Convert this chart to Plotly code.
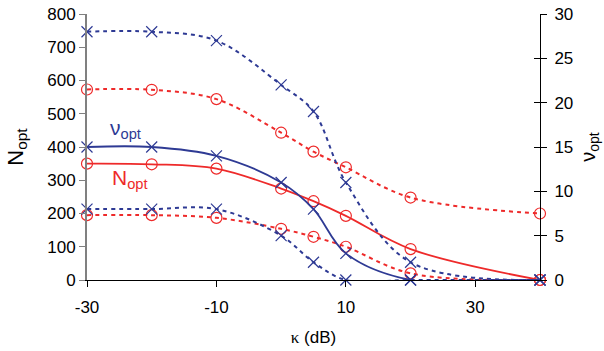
import plotly.graph_objects as go

kappa = [-30, -20, -10, 0, 5, 10, 20, 40]

n_opt = [350, 348, 335, 275, 237, 193, 93, 0]
n_opt_upper = [573, 572, 544, 443, 386, 339, 248, 200]
n_opt_lower = [195, 195, 187, 154, 130, 100, 20, 0]

nu_opt = [15, 15, 14, 11, 8, 3, 0, 0]
nu_opt_upper = [28, 28, 27, 22, 19, 11, 2, 0]
nu_opt_lower = [8, 8, 8, 5, 2, 0, 0, 0]

x_ticks = [-30, -10, 10, 30]
left_ticks = [0, 100, 200, 300, 400, 500, 600, 700, 800]
right_ticks = [0, 5, 10, 15, 20, 25, 30]

RED = "#EE2A2A"
BLUE = "#2E3A94"
FONT = "Liberation Sans, Arial, sans-serif"

fig = go.Figure()

def add(y, color, dash, symbol, axis, width):
    fig.add_trace(go.Scatter(
        x=kappa, y=y, yaxis=axis, mode="lines+markers",
        line=dict(color=color, width=width, dash=dash, shape="spline", smoothing=1.0),
        marker=dict(symbol=symbol, size=11, color=color, line=dict(color=color, width=1.2)),
        showlegend=False, cliponaxis=False,
    ))

add(n_opt_upper, RED, "4px,4px", "circle-open", "y", 2)
add(n_opt_lower, RED, "4px,4px", "circle-open", "y", 2)
add(nu_opt_upper, BLUE, "4px,4px", "x-thin-open", "y2", 2)
add(nu_opt_lower, BLUE, "4px,4px", "x-thin-open", "y2", 2)
add(n_opt, RED, "solid", "circle-open", "y", 1.8)
add(nu_opt, BLUE, "solid", "x-thin-open", "y2", 1.8)

fig.update_layout(
    width=604, height=351,
    margin=dict(l=87, r=64, t=14, b=71),
    paper_bgcolor="white", plot_bgcolor="white",
    font=dict(family=FONT, size=17, color="black"),
    xaxis=dict(
        range=[-30, 40], tickvals=x_ticks, ticktext=[str(v) for v in x_ticks],
        showgrid=False, zeroline=False, showline=True, linecolor="black", linewidth=1,
        ticks="outside", ticklen=6, tickcolor="black", ticklabelstandoff=6, automargin=False,
        title=dict(text="<span style='font-family:Liberation Serif'>κ</span> (dB)",
                   font=dict(size=17), standoff=14),
    ),
    yaxis=dict(
        range=[0, 800], tickvals=left_ticks, automargin=False,
        showgrid=False, zeroline=False, showline=True, linecolor="#808080", linewidth=2,
        ticks="outside", ticklen=6, tickcolor="#808080",
        title=dict(text="N<sub>opt</sub>", font=dict(size=22), standoff=18),
    ),
    yaxis2=dict(
        range=[0, 30], tickvals=right_ticks, overlaying="y", side="right", automargin=False,
        showgrid=False, zeroline=False, showline=True, linecolor="black", linewidth=1,
        ticks="outside", ticklen=6, tickcolor="black", ticklabelstandoff=4,
        title=dict(text="ν<sub>opt</sub>", font=dict(size=20), standoff=8),
    ),
    yaxis3=dict(
        range=[0, 30], tickvals=right_ticks, overlaying="y", side="right", automargin=False,
        showgrid=False, zeroline=False, showline=False, showticklabels=False,
        ticks="inside", ticklen=6, tickcolor="black",
    ),
    annotations=[
        dict(x=-24.0, y=455, xref="x", yref="y", text="ν<sub>opt</sub>", showarrow=False,
             font=dict(size=21, color=BLUE, family=FONT), xanchor="center", yanchor="middle"),
        dict(x=-23.3, y=305, xref="x", yref="y", text="N<sub>opt</sub>", showarrow=False,
             font=dict(size=21, color=RED, family=FONT), xanchor="center", yanchor="middle"),
    ],
)

fig.add_trace(go.Scatter(x=[None], y=[None], yaxis="y3", showlegend=False))

fig.write_html("out.html")
